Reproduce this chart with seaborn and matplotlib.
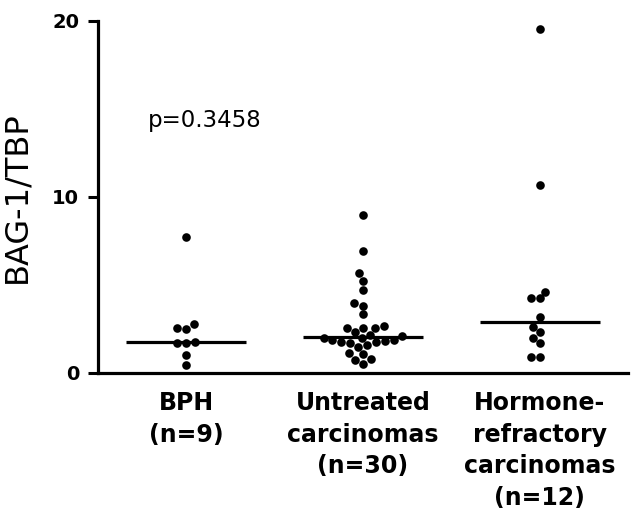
import numpy as np
import pandas as pd
import matplotlib
matplotlib.use("Agg")
import matplotlib.pyplot as plt
import seaborn as sns

categories = ["BPH\n(n=9)", "Untreated\ncarcinomas\n(n=30)", "Hormone-\nrefractory\ncarcinomas\n(n=12)"]

bph = [7.7, 2.78, 2.56, 2.5, 1.74, 1.72, 1.72, 1.0, 0.45]
untreated = [9.0, 6.93, 5.66, 5.23, 4.72, 3.96, 3.83, 3.33, 2.67, 2.56, 2.56, 2.56, 2.31,
             2.15, 2.1, 2.0, 1.97, 1.9, 1.85, 1.8, 1.78, 1.75, 1.72,
             1.59, 1.5, 1.12, 1.08, 0.78, 0.74, 0.51]
hormone = [19.55, 10.68, 4.62, 4.24, 4.24, 3.16, 2.63, 2.31, 2.01, 1.69, 0.89, 0.89]

y_ticks = [0, 10, 20]
ylabel = "BAG-1/TBP"
p_text = "p=0.3458"

df = pd.DataFrame({
    "group": [categories[0]] * len(bph) + [categories[1]] * len(untreated) + [categories[2]] * len(hormone),
    "value": bph + untreated + hormone,
})

sns.set_style("white")
plt.rcParams["font.family"] = ["DejaVu Sans"]
plt.rcParams["text.color"] = "black"
plt.rcParams["axes.labelcolor"] = "black"
plt.rcParams["xtick.color"] = "black"
plt.rcParams["ytick.color"] = "black"

fig = plt.figure(figsize=(6.38, 5.17), dpi=100)
ax = fig.add_axes([98 / 638, 1 - 373 / 517, 530 / 638, 352 / 517])

sns.swarmplot(data=df, x="group", y="value", order=categories, color="black",
              size=6.2, linewidth=0, ax=ax, clip_on=False)

sns.boxplot(data=df, x="group", y="value", order=categories, ax=ax,
            width=0.68, showfliers=False, showbox=False, showcaps=False,
            whiskerprops={"visible": False},
            medianprops={"color": "black", "linewidth": 2.3},
            boxprops={"visible": False}, fill=False)

ax.set_xlim(-0.5, 2.5)
ax.set_ylim(0, 20)
ax.set_yticks(y_ticks)
ax.set_yticklabels([str(t) for t in y_ticks], fontsize=14, fontweight="bold")
ax.set_xticks(range(len(categories)))
ax.set_xticklabels(categories, fontsize=17, fontweight="bold", linespacing=1.4)
ax.tick_params(axis="x", length=0, pad=13, colors="black")
ax.tick_params(axis="y", left=True, length=7.5, width=2.2, pad=6, colors="black")
ax.set_xlabel("")
ax.set_ylabel(ylabel, fontsize=23, color="black")
ax.yaxis.set_label_coords(-0.123, 0.5)

for s in ["top", "right"]:
    ax.spines[s].set_visible(False)
for s in ["left", "bottom"]:
    ax.spines[s].set_linewidth(2.3)
    ax.spines[s].set_color("black")

ax.text(-0.22, 14.0, p_text, fontsize=16.5, va="baseline", ha="left", color="black")

fig.savefig("out.png", dpi=100)
